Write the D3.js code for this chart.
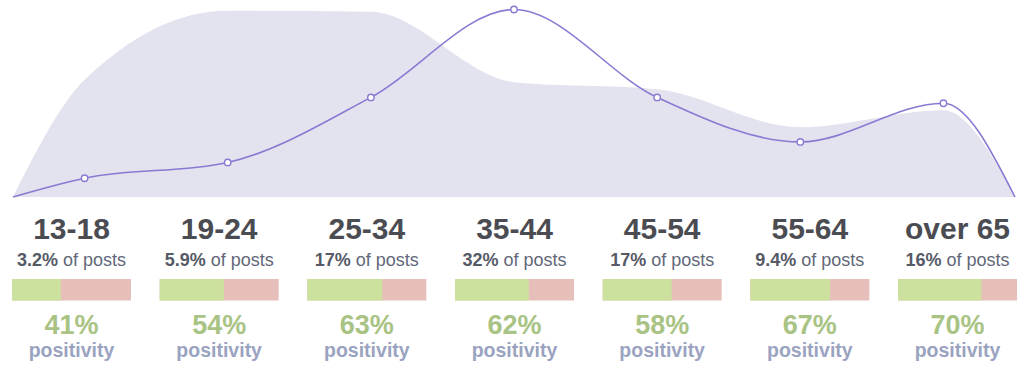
<!DOCTYPE html>
<html>
<head>
<meta charset="utf-8">
<script src="https://cdn.jsdelivr.net/npm/d3@7"></script>
<style>
  html, body { margin: 0; padding: 0; background: #fff; }
  svg { display: block; font-family: "Liberation Sans", Arial, Helvetica, sans-serif; }
</style>
</head>
<body>
<div class="chart"></div>
<script>
"use strict";

// data
var ages = ['13-18', '19-24', '25-34', '35-44', '45-54', '55-64', 'over 65'];
var postShare = [3.2, 5.9, 17, 32, 17, 9.4, 16];          // % of posts (the line)
var userShare = [20, 31.8, 31.6, 19.6, 18.4, 11.9, 14.8]; // background area
var positivity = [41, 54, 63, 62, 58, 67, 70];

var width = 1024;
var height = 372;

var svg = d3.select('.chart')
            .append('svg')
            .attr('width', width)
            .attr('height', height);

// top chart
var x = d3.scalePoint().domain(ages).range([13, 1015]).padding(0.5);
var y = d3.scaleLinear().domain([0, 32]).range([197, 9.5]);

//builds the point list, pinned to the baseline at both ends
var withEnds = function(values) {
  var pts = [{ px: x.range()[0], v: 0 }];
  values.forEach(function(v, i) { pts.push({ px: x(ages[i]), v: v }); });
  pts.push({ px: x.range()[1], v: 0 });
  return pts;
};

var area = d3.area()
  .x(function(d) { return d.px; })
  .y0(y(0))
  .y1(function(d) { return y(d.v); })
  .curve(d3.curveMonotoneX);

var line = d3.line()
  .x(function(d) { return d.px; })
  .y(function(d) { return y(d.v); })
  .curve(d3.curveMonotoneX);

svg.append('path')
   .datum(withEnds(userShare))
   .attr('d', area)
   .style('fill', '#e3e3ef');

svg.append('path')
   .datum(withEnds(postShare))
   .attr('d', line)
   .style('fill', 'none')
   .style('stroke', '#8a79d2')
   .style('stroke-width', 1.6);

svg.selectAll('.dot')
   .data(postShare)
   .enter().append('circle')
   .attr('class', 'dot')
   .attr('cx', function(d, i) { return x(ages[i]); })
   .attr('cy', function(d) { return y(d); })
   .attr('r', 3.2)
   .style('fill', '#fff')
   .style('stroke', '#8a79d2')
   .style('stroke-width', 1.4);

// bottom columns
var col = d3.scalePoint().domain(ages).range([71.5, 957.5]);
var barW = d3.scaleLinear().domain([0, 100]).range([0, 119]);

var cols = svg.selectAll('.col')
  .data(ages)
  .enter().append('g')
  .attr('class', 'col')
  .attr('transform', function(d) { return 'translate(' + col(d) + ',0)'; });

cols.append('text')
    .attr('y', 239)
    .attr('text-anchor', 'middle')
    .style('font-size', '30px')
    .style('font-weight', 'bold')
    .style('fill', '#4b4c52')
    .text(function(d) { return d; });

var share = cols.append('text')
    .attr('y', 266)
    .attr('text-anchor', 'middle')
    .style('font-size', '18px')
    .style('fill', '#626779');
share.append('tspan')
     .style('font-weight', 'bold')
     .style('fill', '#565a66')
     .text(function(d, i) { return postShare[i] + '%'; });
share.append('tspan')
     .text(' of posts');

cols.append('rect')
    .attr('x', -barW(100) / 2)
    .attr('y', 279)
    .attr('width', barW(100))
    .attr('height', 21.5)
    .style('fill', '#e6bfba');

cols.append('rect')
    .attr('x', -barW(100) / 2)
    .attr('y', 279)
    .attr('width', function(d, i) { return barW(positivity[i]); })
    .attr('height', 21.5)
    .style('fill', '#cde19e');

cols.append('text')
    .attr('y', 334)
    .attr('text-anchor', 'middle')
    .style('font-size', '27px')
    .style('font-weight', 'bold')
    .style('fill', '#a9c384')
    .text(function(d, i) { return positivity[i] + '%'; });

cols.append('text')
    .attr('y', 357)
    .attr('text-anchor', 'middle')
    .style('font-size', '19.5px')
    .style('font-weight', 'bold')
    .style('fill', '#9aa3bf')
    .text('positivity');
</script>
</body>
</html>
